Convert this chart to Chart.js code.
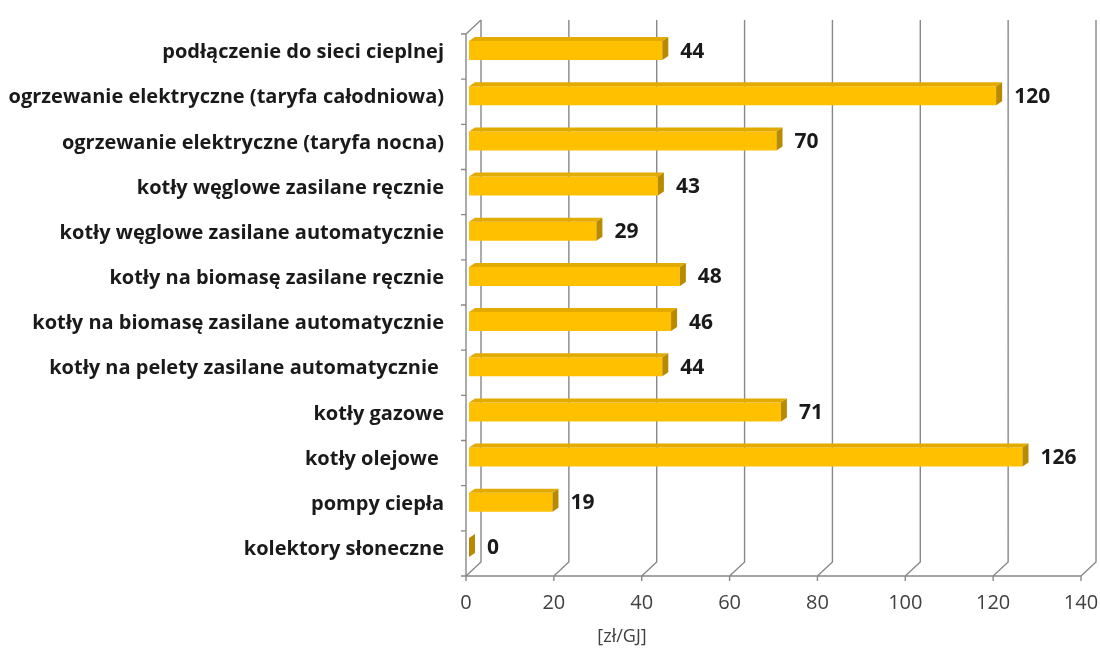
<!DOCTYPE html>
<html>
<head>
<meta charset="utf-8">
<script src="https://cdn.jsdelivr.net/npm/chart.js@4/dist/chart.umd.min.js"></script>
<style>
html,body{margin:0;padding:0;background:#fff}
#wrap{width:1100px;height:653px}
</style>
</head>
<body>
<div id="wrap"><canvas id="koszty"></canvas></div>
<script>
const kategorie = [
  "podłączenie do sieci cieplnej",
  "ogrzewanie elektryczne (taryfa całodniowa)",
  "ogrzewanie elektryczne (taryfa nocna)",
  "kotły węglowe zasilane ręcznie",
  "kotły węglowe zasilane automatycznie",
  "kotły na biomasę zasilane ręcznie",
  "kotły na biomasę zasilane automatycznie",
  "kotły na pelety zasilane automatycznie ",
  "kotły gazowe",
  "kotły olejowe ",
  "pompy ciepła",
  "kolektory słoneczne"
]
const koszt = [44, 120, 70, 43, 29, 48, 46, 44, 71, 126, 19, 0]
const osX = [0, 20, 40, 60, 80, 100, 120, 140]
const jednostka = "[zł/GJ]"

const FONT = "'Open Sans', Lato, sans-serif"
// glebokosc "sciany" i slupkow (pseudo 3D)
const WALL = {dx: 15, dy: -14}
const BAR = {dx: 6, dy: -4, sx: 3, sy: -6}

// sciany, linie siatki i osie
const rama = {
  id: "rama",
  beforeDatasetsDraw(chart){
    const {ctx, chartArea: a, scales} = chart
    const xs = scales.x
    ctx.save()
    ctx.strokeStyle = "#888888"
    ctx.lineWidth = 1.4
    ctx.beginPath()
    osX.forEach(v => {
      const x = xs.getPixelForValue(v)
      // linia na tylnej scianie + skos do osi
      ctx.moveTo(x + WALL.dx, a.top + WALL.dy)
      ctx.lineTo(x + WALL.dx, a.bottom + WALL.dy)
      ctx.lineTo(x, a.bottom)
      // znacznik na osi
      ctx.moveTo(x, a.bottom)
      ctx.lineTo(x, a.bottom + 5)
    })
    // lewa sciana
    ctx.moveTo(a.left, a.top)
    ctx.lineTo(a.left + WALL.dx, a.top + WALL.dy)
    ctx.moveTo(a.left, a.top)
    ctx.lineTo(a.left, a.bottom)
    ctx.lineTo(a.right, a.bottom)
    // znaczniki kategorii
    const krok = (a.bottom - a.top) / kategorie.length
    for (let i = 0; i <= kategorie.length; i++) {
      const y = a.top + i * krok
      ctx.moveTo(a.left - 5, y)
      ctx.lineTo(a.left, y)
    }
    ctx.stroke()
    ctx.restore()

    ctx.save()
    ctx.translate(BAR.sx, BAR.sy)
  },
  afterDatasetsDraw(chart){
    const {ctx} = chart
    const meta = chart.getDatasetMeta(0)
    meta.data.forEach((bar, i) => {
      const {x, y, base, height} = bar.getProps(["x", "y", "base", "height"], true)
      const t = y - height / 2, b = y + height / 2
      // gorna sciana slupka
      ctx.fillStyle = "#e3aa00"
      ctx.beginPath()
      ctx.moveTo(base, t)
      ctx.lineTo(x, t)
      ctx.lineTo(x + BAR.dx, t + BAR.dy)
      ctx.lineTo(base + BAR.dx, t + BAR.dy)
      ctx.closePath()
      ctx.fill()
      // boczna sciana
      ctx.fillStyle = "#b88a00"
      ctx.beginPath()
      ctx.moveTo(x, t)
      ctx.lineTo(x + BAR.dx, t + BAR.dy)
      ctx.lineTo(x + BAR.dx, b + BAR.dy)
      ctx.lineTo(x, b)
      ctx.closePath()
      ctx.fill()
      // wartosc
      ctx.fillStyle = "#1a1a1a"
      ctx.font = "bold 21px " + FONT
      ctx.textAlign = "left"
      ctx.textBaseline = "middle"
      ctx.fillText(String(koszt[i]), x + 18, y + 1)
    })
    ctx.restore()
  },
  afterDraw(chart){
    const {ctx} = chart
    ctx.save()
    ctx.fillStyle = "#404040"
    ctx.font = "18px " + FONT
    ctx.textAlign = "center"
    ctx.textBaseline = "middle"
    ctx.fillText(jednostka, 622, 637)
    ctx.restore()
  }
}

new Chart(document.getElementById("koszty"), {
  type: "bar",
  data: {
    labels: kategorie,
    datasets: [{
      data: koszt,
      backgroundColor: "#ffc000",
      borderWidth: 0,
      categoryPercentage: 1,
      barPercentage: 0.42
    }]
  },
  options: {
    indexAxis: "y",
    responsive: true,
    maintainAspectRatio: false,
    animation: false,
    layout: {padding: {left: 0, right: 19, top: 27, bottom: 0}},
    plugins: {legend: {display: false}, tooltip: {enabled: false}},
    scales: {
      x: {
        min: 0,
        max: 140,
        afterBuildTicks(s){ s.ticks = osX.map(v => ({value: v})) },
        afterFit(s){
          s.height = 653 - 576
          s.paddingLeft = 0
          s.paddingRight = 0
        },
        grid: {display: false, drawTicks: false},
        border: {display: false},
        ticks: {color: "#404040", font: {family: FONT, size: 20}, padding: 15}
      },
      y: {
        afterFit(s){ s.width = 466 },
        grid: {display: false, drawTicks: false},
        border: {display: false},
        ticks: {
          color: "#1a1a1a",
          font: {family: FONT, size: 20, weight: "bold"},
          padding: 22,
          labelOffset: -4,
          autoSkip: false
        }
      }
    }
  },
  plugins: [rama]
})
</script>
</body>
</html>
